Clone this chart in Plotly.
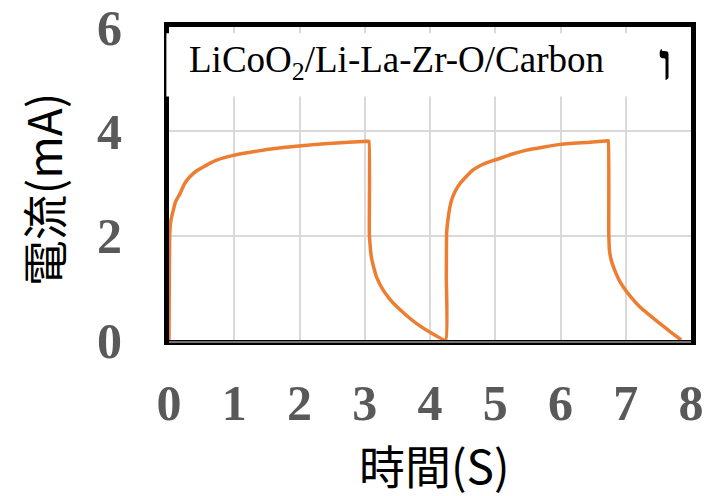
import plotly.graph_objects as go

# Current vs time, two charge/discharge cycles
time_s = [0.0, 0.005, 0.012, 0.03, 0.066, 0.10, 0.17, 0.24, 0.32, 0.42, 0.53, 0.63, 0.73,
          0.985, 1.2, 1.50, 1.75, 1.99, 2.25, 2.51, 2.75, 3.05,
          3.065, 3.07, 3.08, 3.10, 3.14, 3.18, 3.28, 3.38, 3.49, 3.64, 3.79, 4.0, 4.24,
          4.25, 4.255, 4.28, 4.33, 4.39, 4.46, 4.56, 4.66, 4.78, 4.92, 5.02, 5.25, 5.48,
          5.75, 6.00, 6.45, 6.73,
          6.735, 6.74, 6.75, 6.78, 6.83, 6.89, 6.96, 7.08, 7.21, 7.36, 7.52, 7.68, 7.85]
current_ma = [0.0, 1.2, 2.05, 2.3, 2.49, 2.65, 2.81, 3.0, 3.13, 3.24, 3.32, 3.39, 3.45,
              3.54, 3.59, 3.65, 3.69, 3.72, 3.75, 3.77, 3.79, 3.81,
              3.81, 2.05, 1.85, 1.60, 1.38, 1.21, 0.96, 0.79, 0.64, 0.47, 0.32, 0.15, 0.0,
              1.2, 2.05, 2.36, 2.68, 2.86, 3.00, 3.14, 3.26, 3.35, 3.42, 3.46, 3.56, 3.64,
              3.70, 3.75, 3.79, 3.82,
              3.82, 2.05, 1.72, 1.52, 1.34, 1.17, 1.02, 0.82, 0.64, 0.48, 0.32, 0.16, 0.0]

x_ticks = [0, 1, 2, 3, 4, 5, 6, 7, 8]
y_ticks = [0, 2, 4, 6]
title_text = "LiCoO<sub>2</sub>/Li-La-Zr-O/Carbon"
stray_mark = "ו"
x_title = "時間(S)"
y_title = "電流(mA)"

fig = go.Figure()
fig.add_trace(go.Scatter(x=time_s, y=current_ma, mode="lines",
                         line=dict(color="#ED7D31", width=3.5, shape="spline", smoothing=0.4),
                         showlegend=False))

tick_font = dict(family="Liberation Serif", size=50, color="#595959", weight="bold")

# page body adds an 8px offset, so margins are shifted by -8
fig.update_layout(
    width=722, height=496,
    margin=dict(l=161, r=39, t=19, b=164, autoexpand=False),
    paper_bgcolor="white", plot_bgcolor="white",
    xaxis=dict(range=[0, 8], tickvals=x_ticks, showgrid=True, gridcolor="#d9d9d9", gridwidth=2,
               zeroline=False, showline=True, mirror=True, linecolor="black", linewidth=5,
               ticks="", tickfont=tick_font,
               ticklabelstandoff=15, automargin=False, ticklabeloverflow="allow"),
    yaxis=dict(range=[0, 6], tickvals=y_ticks, showgrid=True, gridcolor="#d9d9d9", gridwidth=2,
               zeroline=False, showline=True, mirror=True, linecolor="black", linewidth=5,
               ticks="", tickfont=tick_font,
               ticklabelstandoff=32, automargin=False, ticklabeloverflow="allow"),
)

box_y0, box_y1 = 4.67 / 6, 5.88 / 6
shapes = [
    # white label box hiding gridlines and the inner part of the left frame
    dict(type="rect", xref="paper", yref="paper", x0=-0.005, x1=0.994, y0=box_y0, y1=box_y1,
         fillcolor="white", line=dict(width=0), layer="above"),
    # grey inner stripe of the bottom frame
    dict(type="line", xref="paper", yref="paper", x0=0.0, x1=1.0, y0=-0.006, y1=-0.006,
         line=dict(color="#9a9a9a", width=1.5), layer="above"),
]
fig.update_layout(shapes=shapes)

annotations = [
    dict(text=title_text, xref="paper", yref="paper", x=0.435, y=0.885,
         xanchor="center", yanchor="middle", showarrow=False,
         font=dict(family="Liberation Serif", size=37, color="black")),
    dict(text=stray_mark, xref="paper", yref="paper", x=0.952, y=0.885,
         xanchor="center", yanchor="middle", showarrow=False,
         font=dict(family="Liberation Serif", size=52, color="black", weight="bold")),
    dict(text=x_title, xref="paper", yref="paper", x=0.508, y=-0.395,
         xanchor="center", yanchor="middle", showarrow=False,
         font=dict(family="Noto Sans CJK TC", size=46, color="black")),
    dict(text=y_title, xref="paper", yref="paper", x=-0.243, y=0.482,
         xanchor="center", yanchor="middle", showarrow=False, textangle=-90,
         font=dict(family="Noto Sans CJK TC", size=46, color="black")),
]
fig.update_layout(annotations=annotations)

fig.write_html("out.html")
